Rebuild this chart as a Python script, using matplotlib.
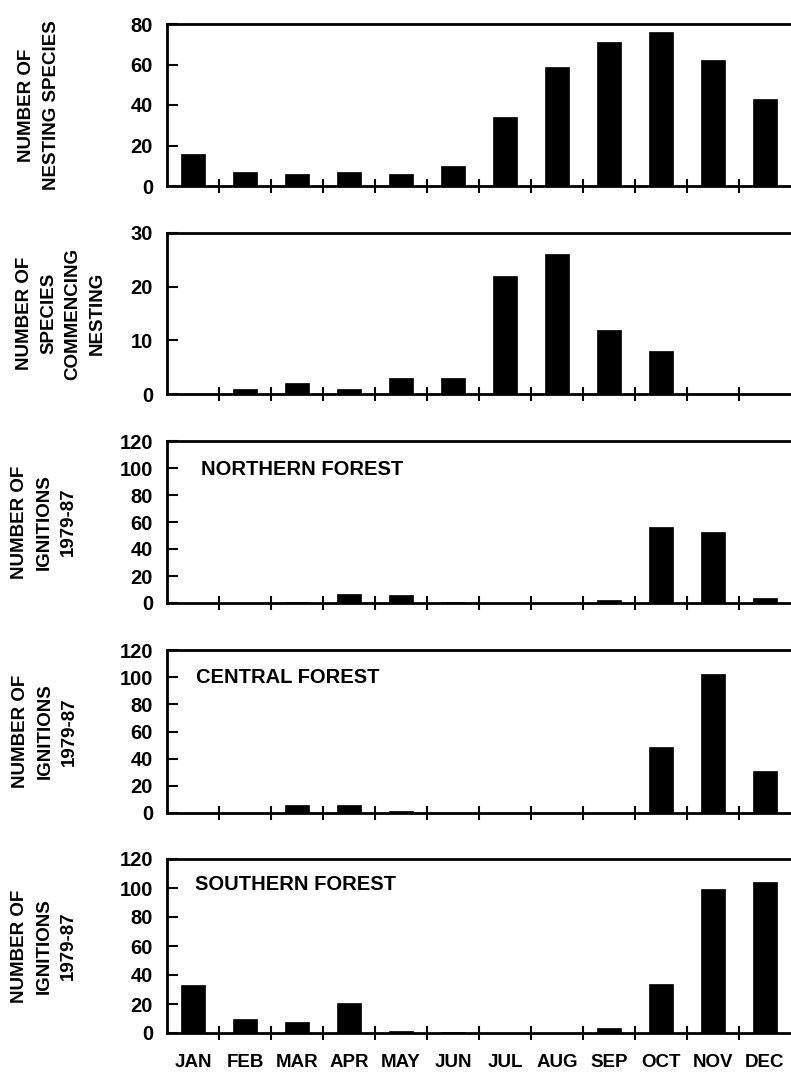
import matplotlib
matplotlib.use("Agg")
import matplotlib.pyplot as plt
import numpy as np

plt.rcParams['font.family'] = ['Liberation Sans', 'DejaVu Sans']
plt.rcParams['font.weight'] = 'bold'

months = ["JAN", "FEB", "MAR", "APR", "MAY", "JUN",
          "JUL", "AUG", "SEP", "OCT", "NOV", "DEC"]

nesting_species = [16, 7, 6, 7, 6, 10, 34, 59, 71, 76, 62, 43]
commencing_nesting = [0, 1, 2, 1, 3, 3, 22, 26, 12, 8, 0, 0]
northern_ignitions = [0, 0, 0.4, 6.5, 6, 0.5, 0, 0, 2, 56.5, 52.5, 4]
central_ignitions = [0.3, 0.3, 6, 6, 1.5, 0, 0, 0, 0, 48.5, 102.5, 31]
southern_ignitions = [33, 10, 7.5, 21, 1.5, 0.5, 0, 0, 3.5, 34, 99, 104]

ylabels = ["NUMBER OF\nNESTING SPECIES",
           "NUMBER OF\nSPECIES\nCOMMENCING\nNESTING",
           "NUMBER OF\nIGNITIONS\n1979-87",
           "NUMBER OF\nIGNITIONS\n1979-87",
           "NUMBER OF\nIGNITIONS\n1979-87"]
panel_titles = [None, None, "NORTHERN FOREST", "CENTRAL FOREST", "SOUTHERN FOREST"]
series = [nesting_species, commencing_nesting, northern_ignitions,
          central_ignitions, southern_ignitions]
ymax = [80, 30, 120, 120, 120]
ystep = [20, 10, 20, 20, 20]

W, H = 791, 1073
fig = plt.figure(figsize=(W / 100, H / 100), dpi=100)

# panel boxes in pixels: (top, bottom) of the plotting area
boxes = [(24, 186), (233, 394), (441, 603), (650, 813), (859, 1033)]
label_x = [39, 61, 44, 45, 44]
title_pos = [None, None, (0.055, 0.827), (0.047, 0.834), (0.045, 0.853)]
left, right = 167, 791

x = np.arange(1, 13)
for i, (top, bot) in enumerate(boxes):
    ax = fig.add_axes([left / W, 1 - bot / H, (right - left) / W, (bot - top) / H])
    ax.bar(x, series[i], width=0.45, color="black", edgecolor="black", linewidth=0.5)
    ax.set_xlim(0.5, 12.5)
    ax.set_ylim(0, ymax[i])
    ax.set_yticks(np.arange(0, ymax[i] + 1, ystep[i]))
    ax.set_xticks(np.arange(1.5, 12.5, 1))
    ax.set_xticks(x, minor=True)
    ax.tick_params(axis="y", direction="in", length=8, width=1.5, pad=10, labelsize=14.5)
    ax.tick_params(axis="x", which="major", direction="inout", length=10, width=1.5,
                   labelbottom=False)
    ax.tick_params(axis="x", which="minor", length=0, pad=15, labelsize=13.5)
    if i == len(boxes) - 1:
        ax.set_xticklabels(months, minor=True, fontweight="bold")
    else:
        ax.set_xticklabels([], minor=True)
    for lab in ax.get_yticklabels():
        lab.set_fontweight("bold")
    for s in ["left", "bottom", "top"]:
        ax.spines[s].set_linewidth(2)
    ax.spines["right"].set_visible(False)
    if panel_titles[i]:
        ax.text(title_pos[i][0], title_pos[i][1], panel_titles[i], transform=ax.transAxes,
                fontsize=14.5, fontweight="bold", va="center", ha="left")
    fig.text(label_x[i] / W, 1 - (top + bot) / 2 / H, ylabels[i], rotation=90,
             ha="center", va="center", multialignment="center",
             fontsize=13.5, fontweight="bold", linespacing=1.55)

fig.savefig("out.png", dpi=100)
